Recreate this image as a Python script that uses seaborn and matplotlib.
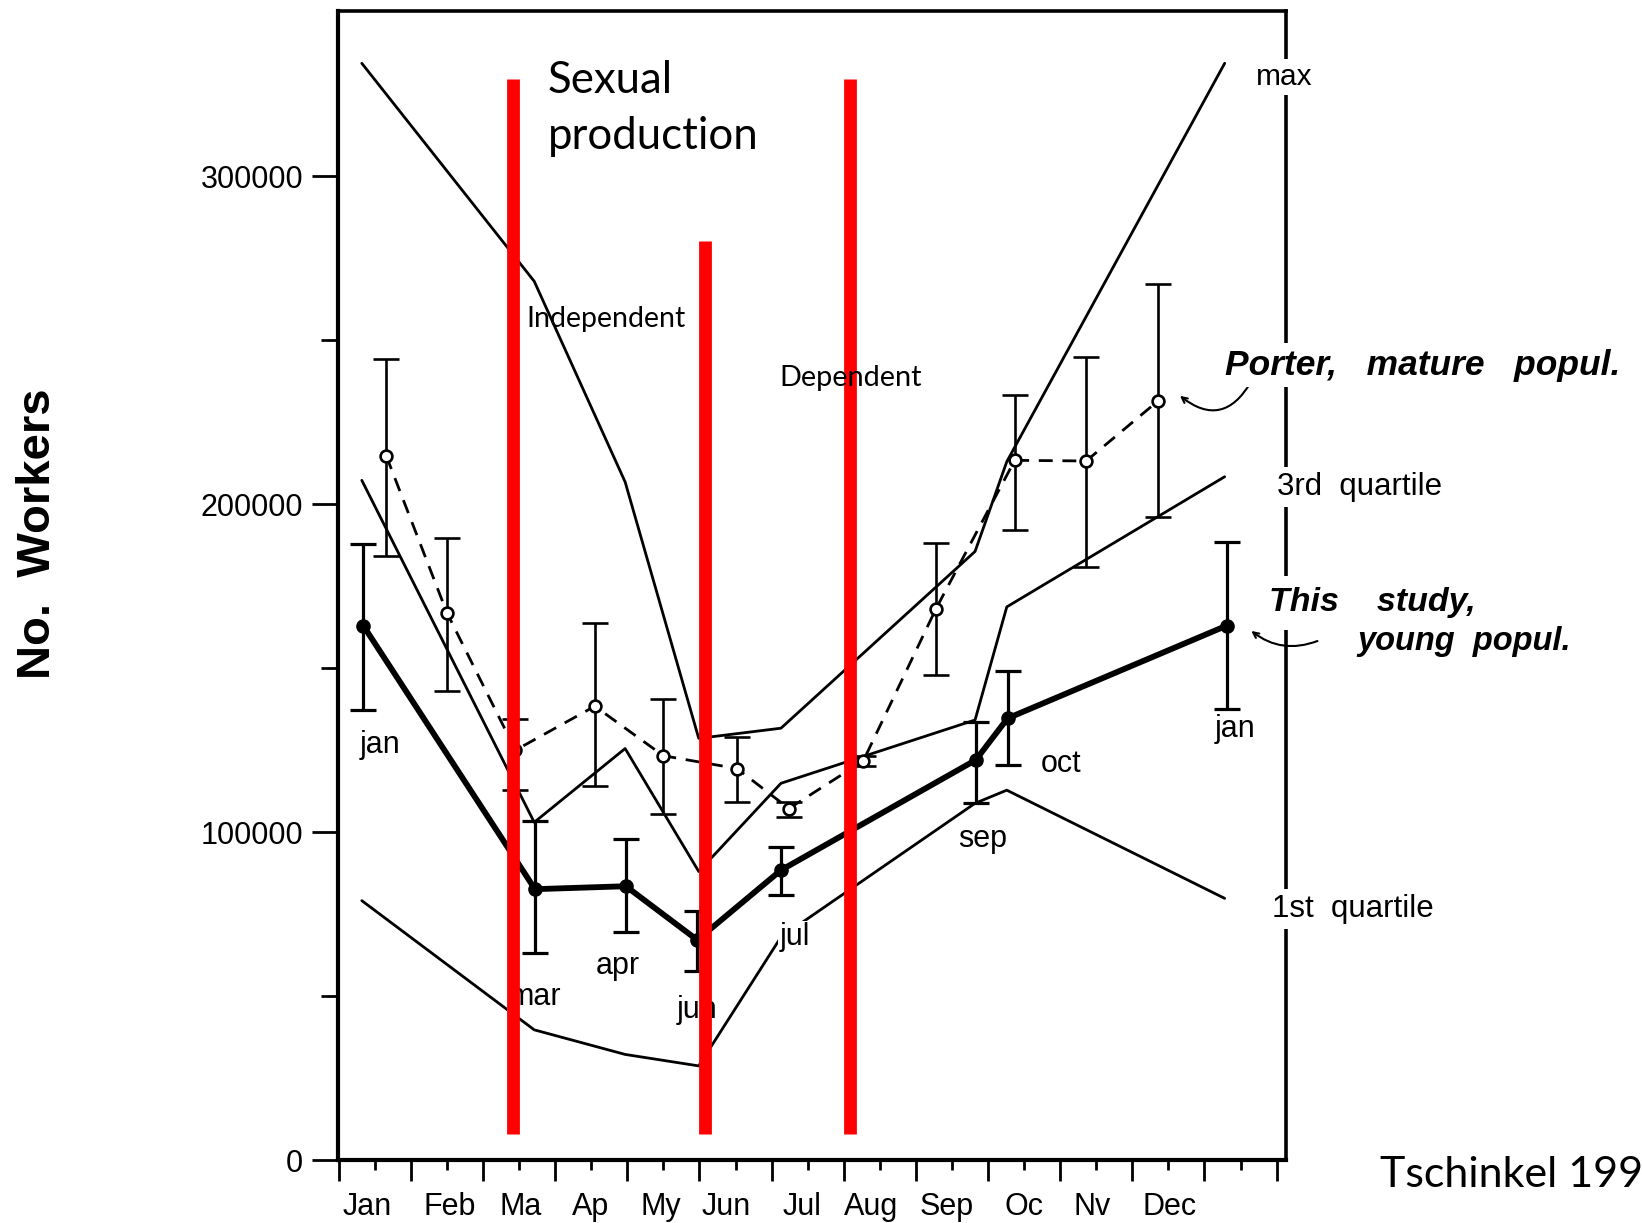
import matplotlib
matplotlib.use("Agg")
import matplotlib.pyplot as plt
import matplotlib.transforms as mtransforms
import seaborn as sns

# ---------------- data ----------------
months = ["Jan", "Feb", "Ma", "Ap", "My", "Jun", "Jul", "Aug", "Sep", "Oc", "Nv", "Dec"]

# This study, young population (mean with error bars)
study_x = [0.84, 3.22, 4.48, 5.47, 6.63, 9.33, 9.77, 12.81]
study_y = [163000, 82600, 83500, 67100, 88400, 122000, 134700, 163000]
study_hi = [187800, 103400, 97900, 75800, 95500, 133600, 149000, 188400]
study_lo = [137400, 63200, 69400, 57500, 80800, 108800, 120400, 137600]
study_lab = ["jan", "mar", "apr", "jun", "jul", "sep", "oct", "jan"]

# Porter, mature population
porter_x = [1.16, 2.0, 2.95, 4.05, 5.0, 6.02, 6.74, 7.77, 8.78, 9.87, 10.86, 11.85]
porter_y = [214700, 166900, 125000, 138400, 123300, 119400, 107200, 121700, 168200, 213400, 213200, 231400]
porter_hi = [244200, 189800, 134500, 163800, 140500, 129100, 109300, 123200, 188100, 233200, 244800, 267200]
porter_lo = [184200, 143100, 113000, 114000, 105400, 109300, 104700, 120200, 147900, 192100, 181000, 196000]

# quartile envelopes of this study
quart_x = [0.82, 3.21, 4.47, 5.49, 6.63, 9.32, 9.76, 12.78]
q_max = [334500, 268000, 206800, 128600, 131700, 185600, 213000, 334500]
q_3rd = [207300, 103000, 125500, 88000, 114900, 134200, 168700, 208400]
q_1st = [79100, 39700, 32200, 28700, 68000, 108800, 112800, 79800]

# red phase markers
red_x = [2.92, 5.58, 7.58]
red_top = [329800, 280300, 329800]
red_bottom = [8000, 8000, 8000]

# ---------------- style ----------------
sns.set_style("ticks")
plt.rcParams["font.family"] = ["Liberation Sans", "DejaVu Sans"]
for k in ("text.color", "axes.labelcolor", "xtick.color", "ytick.color", "axes.edgecolor"):
    plt.rcParams[k] = "black"

W, H = 1642, 1223
fig = plt.figure(figsize=(W / 100, H / 100), dpi=100)
ax = fig.add_axes([338 / W, 1 - 1160 / H, (1286 - 338) / W, (1160 - 10.5) / H])

def fx(px):
    return px / W

def fy(py):
    return 1 - py / H

# quartile lines
for q in (q_max, q_3rd, q_1st):
    sns.lineplot(x=quart_x, y=q, ax=ax, color="black", lw=2.0,
                 estimator=None, sort=False, zorder=2)

# Porter dashed series
sns.lineplot(x=porter_x, y=porter_y, ax=ax, color="black", lw=2.0,
             estimator=None, sort=False, dashes=False, zorder=2.2,
             linestyle=(0, (5, 3.5)))
ax.errorbar(porter_x, porter_y,
            yerr=[[a - b for a, b in zip(porter_y, porter_lo)],
                  [b - a for a, b in zip(porter_y, porter_hi)]],
            fmt="none", ecolor="black", elinewidth=1.9, capsize=9.5, capthick=1.9, zorder=2.3)
ax.plot(porter_x, porter_y, "o", ms=8.5, mfc="white", mec="black", mew=1.9, zorder=2.6)

# This study thick series
sns.lineplot(x=study_x, y=study_y, ax=ax, color="black", lw=4.2,
             estimator=None, sort=False, zorder=2.4)
ax.errorbar(study_x, study_y,
            yerr=[[a - b for a, b in zip(study_y, study_lo)],
                  [b - a for a, b in zip(study_y, study_hi)]],
            fmt="none", ecolor="black", elinewidth=2.3, capsize=9.5, capthick=2.3, zorder=2.5)
ax.plot(study_x, study_y, "o", ms=9.5, color="black", zorder=2.7)

# month labels of samples
lab_pos = [(1.07, 126500), (3.22, 49800), (4.375, 59300), (5.46, 45800),
           (6.82, 68000), (9.42, 97800), (10.51, 120800), (12.93, 131400)]
for t, (lx, ly) in zip(study_lab, lab_pos):
    ax.text(lx, ly, t, ha="center", va="center", fontsize=22, zorder=3.5,
            bbox=dict(boxstyle="square,pad=0.05", fc="white", ec="none"))

# red vertical lines
ax.vlines(red_x, red_bottom, red_top, colors="#FF0000", lw=9.2, zorder=4,
          capstyle="butt")

# axes
ax.set_xlim(0.49, 13.63)
ax.set_ylim(0, 350600)
ax.set_xticks(range(1, 14))
ax.set_xticklabels(months + [""])
ax.set_xticks([i + 0.5 for i in range(0, 14)], minor=True)
ax.set_yticks([0, 100000, 200000, 300000])
ax.set_yticklabels(["0", "100000", "200000", "300000"])
ax.set_yticks([50000, 150000, 250000], minor=True)
ax.tick_params(axis="x", which="major", length=7, width=2, pad=16,
               labelsize=22, color="black", labelcolor="black", direction="out")
ax.tick_params(axis="x", which="minor", length=15, width=2, color="black", direction="out")
ax.tick_params(axis="y", which="major", length=19, width=2, pad=6,
               labelsize=22, color="black", labelcolor="black", direction="out")
ax.tick_params(axis="y", which="minor", length=12, width=2, color="black", direction="out")
for s in ax.spines.values():
    s.set_color("black")
    s.set_linewidth(2.6)
ax.spines["left"].set_linewidth(3)
ax.spines["bottom"].set_linewidth(3)
ax.set_xlabel("")
ax.set_ylabel("")

# slight hand-set nudges of month labels (as in the scanned figure)
nudges = [-8, 3, 2, -1, -3, -9, -6, -9, -5, 0, -4, 1, 0]
for lbl, dx in zip(ax.get_xticklabels(), nudges):
    lbl.set_transform(lbl.get_transform() +
                      mtransforms.ScaledTranslation(dx / 100, 0, fig.dpi_scale_trans))

# annotations inside the plot
fig.text(fx(548), fy(60), "Sexual\nproduction",
         ha="left", va="top", fontsize=31.5, family=["Lato", "DejaVu Sans"],
         linespacing=1.45, zorder=5)
fig.text(fx(526), fy(319), "Independent", ha="left", va="center", fontsize=20.5,
         family=["Lato", "DejaVu Sans"], zorder=5)
fig.text(fx(779), fy(378), "Dependent", ha="left", va="center", fontsize=20.8,
         family=["Lato", "DejaVu Sans"], zorder=5)

# right side labels
wb = dict(boxstyle="square,pad=0.15", fc="white", ec="none")
fig.text(fx(1284), fy(77), "max", ha="center", va="center", fontsize=21.5, bbox=wb)
fig.text(fx(1277), fy(487), "3rd  quartile", ha="left", va="center", fontsize=22.5, bbox=wb)
fig.text(fx(1272), fy(909), "1st  quartile", ha="left", va="center", fontsize=22.5, bbox=wb)
fig.text(fx(1225), fy(365), "Porter,   mature   popul.", ha="left", va="center",
         fontsize=25.5, fontweight="bold", style="italic", bbox=wb)
fig.text(fx(1269), fy(603), "This    study,", ha="left", va="center",
         fontsize=24.5, fontweight="bold", style="italic",
         bbox=dict(boxstyle="square,pad=0.35", fc="white", ec="none"))
fig.text(fx(1357), fy(641), "young  popul.", ha="left", va="center",
         fontsize=23.5, fontweight="bold", style="italic")

# small arrows to the series
ax.annotate("", xy=(12.13, 233600), xycoords="data",
            xytext=(fx(1252), fy(380)), textcoords="figure fraction",
            arrowprops=dict(arrowstyle="->", lw=1.5, color="black",
                            connectionstyle="arc3,rad=-0.6"), annotation_clip=False)
ax.annotate("", xy=(13.12, 161900), xycoords="data",
            xytext=(fx(1320), fy(640)), textcoords="figure fraction",
            arrowprops=dict(arrowstyle="->", lw=1.5, color="black",
                            connectionstyle="arc3,rad=-0.3"), annotation_clip=False)

# y label and credit
fig.text(fx(38), fy(534), "No.  Workers", rotation=90, ha="center", va="center",
         fontsize=34, fontweight="bold")
fig.text(fx(1380), fy(1175), "Tschinkel 199", ha="left", va="center", fontsize=31,
         family=["Lato", "DejaVu Sans"])

fig.savefig("out.png", dpi=100)
